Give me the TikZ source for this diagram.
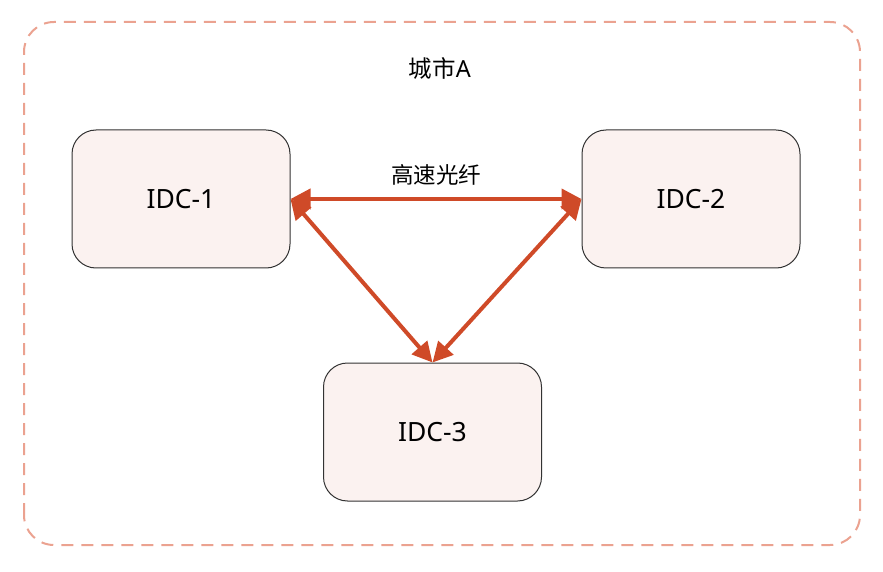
\documentclass[tikz,border=0pt]{standalone}
\usepackage{fontspec}
\setmainfont{Noto Sans}
\newfontfamily\cjk{Noto Sans CJK SC}
\usetikzlibrary{arrows.meta}
\definecolor{borderc}{HTML}{EBA290}
\definecolor{boxfill}{HTML}{FBF2F0}
\definecolor{boxline}{HTML}{333333}
\definecolor{arrowc}{HTML}{CF4A28}
\tikzset{
  idcbox/.style={draw=boxline, line width=1pt, fill=boxfill, rounded corners=24pt,
    minimum width=218pt, minimum height=138pt, inner sep=0pt, font=\fontsize{26.5pt}{30pt}\selectfont},
  link/.style={draw=arrowc, line width=4pt, {Triangle[length=20pt,width=20pt]}-{Triangle[length=20pt,width=20pt]}},
  lbl/.style={inner sep=0pt}
}
\begin{document}
\begin{tikzpicture}[x=1pt,y=1pt]
\useasboundingbox (0,0) rectangle (883,571);
\draw[borderc, line width=2pt, dash pattern=on 12pt off 8pt, rounded corners=30pt] (24,26) rectangle (860,549);
\node[lbl, font=\fontsize{23.5pt}{27pt}\selectfont] (city) at (440,502) {{\cjk 城市}A};
\node[idcbox] (idc1) at (181,372) {IDC-1};
\node[idcbox] (idc2) at (691,372) {IDC-2};
\node[idcbox] (idc3) at (432.5,139) {IDC-3};
\node[lbl, font=\fontsize{22.5pt}{26pt}\selectfont\cjk] (fiber) at (436,396) {高速光纤};
\draw[link] (idc1.east) -- (idc2.west);
\draw[link] (idc1.east) -- (idc3.north);
\draw[link] (idc2.west) -- (idc3.north);
\end{tikzpicture}
\end{document}
